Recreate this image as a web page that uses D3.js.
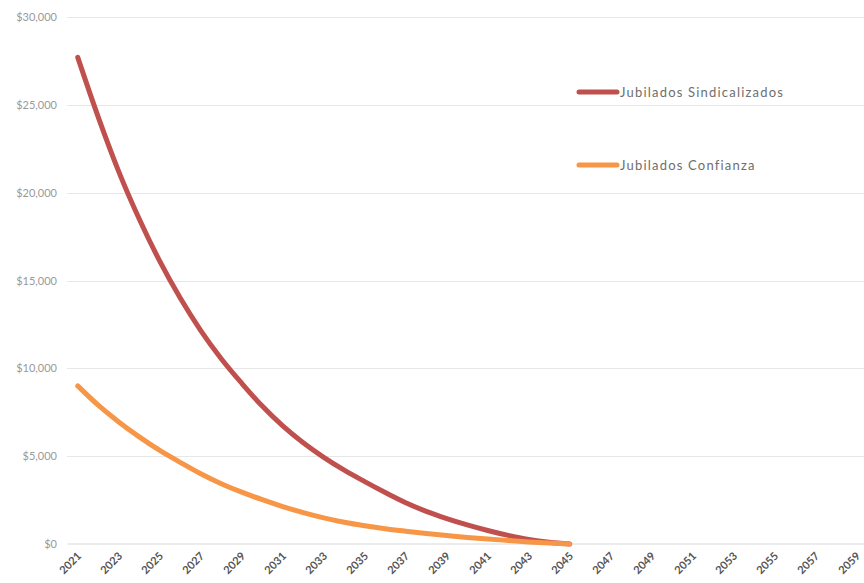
<!DOCTYPE html>
<html lang="es">
<head>
<meta charset="UTF-8">
<title>Jubilados</title>
<script src="https://d3js.org/d3.v7.min.js"></script>
<style>
  body { margin: 0; background: #fff; }
  svg { display: block; }
</style>
</head>
<body>
<svg id="chart" width="864" height="583"></svg>
<script>
// years on the category axis
var years = d3.range(2021, 2060);
var tickYears = years.filter(function(y) { return (y - 2021) % 2 === 0; });

// values, 2021..2045
var sindicalizados = [27700, 24300, 21200, 18500, 16100, 14000, 12150, 10550, 9150, 7850,
  6720, 5760, 4930, 4200, 3550, 2930, 2350, 1860, 1450, 1090, 770, 490, 260, 100, 0];
var confianza = [9000, 7900, 6950, 6100, 5330, 4650, 4000, 3430, 2950, 2520,
  2130, 1790, 1490, 1240, 1040, 870, 730, 600, 480, 370, 280, 200, 120, 55, 0];

var seriesNames = ["Jubilados Sindicalizados", "Jubilados Confianza"];
var seriesColors = ["#C0504D", "#F79646"];
var yTicks = [0, 5000, 10000, 15000, 20000, 25000, 30000];

var svg = d3.select("#chart");

var step = 20.5;
var plot = {left: 67.5, top: 17, bottom: 544};
plot.right = plot.left + step * years.length;

var x = d3.scalePoint()
    .domain(years)
    .range([plot.left + step / 2, plot.right - step / 2]);

var y = d3.scaleLinear()
    .domain([0, 30000])
    .range([plot.bottom, plot.top]);

// dotted gridlines
svg.append("g").selectAll("line")
  .data(yTicks.slice(1))
  .enter().append("line")
    .attr("x1", plot.left).attr("x2", plot.right)
    .attr("y1", function(d) { return Math.round(y(d)) + 0.5; })
    .attr("y2", function(d) { return Math.round(y(d)) + 0.5; })
    .style("stroke", "#cfcfcf")
    .style("stroke-width", 1)
    .style("stroke-dasharray", "1,1");

// baseline
svg.append("line")
  .attr("x1", plot.left).attr("x2", plot.right)
  .attr("y1", y(0)).attr("y2", y(0))
  .style("stroke", "#d9d9d9")
  .style("stroke-width", 1.2);

// y axis labels
var yAxis = d3.axisLeft(y)
    .tickValues(yTicks)
    .tickSize(0)
    .tickPadding(0)
    .tickFormat(function(d) { return "$" + d3.format(",")(d); });

var yG = svg.append("g")
    .attr("transform", "translate(57,0)")
    .call(yAxis);
yG.select(".domain").remove();
yG.selectAll("text")
    .style("font-family", "Lato, 'Open Sans', sans-serif")
    .style("font-size", "11px")
    .style("fill", "#999");

// x axis labels
var xAxis = d3.axisBottom(x)
    .tickValues(tickYears)
    .tickSize(0)
    .tickPadding(0);

var xG = svg.append("g")
    .attr("transform", "translate(0," + plot.bottom + ")")
    .call(xAxis);
xG.select(".domain").remove();
xG.selectAll("text")
    .attr("text-anchor", "end")
    .attr("dy", "0.35em")
    .attr("transform", "translate(1,10) rotate(-45)")
    .style("font-family", "Lato, 'Open Sans', sans-serif")
    .style("font-size", "11px")
    .style("font-weight", "bold")
    .style("fill", "#555");

// lines
var line = d3.line()
    .x(function(d, i) { return x(years[i]); })
    .y(function(d) { return y(d); })
    .curve(d3.curveMonotoneX);

[sindicalizados, confianza].forEach(function(vals, i) {
  svg.append("path")
    .datum(vals)
    .attr("d", line)
    .style("fill", "none")
    .style("stroke", seriesColors[i])
    .style("stroke-width", 5)
    .style("stroke-linecap", "round")
    .style("stroke-linejoin", "round");
});

// legend
var legend = svg.append("g").selectAll("g")
  .data(seriesNames)
  .enter().append("g")
    .attr("transform", function(d, i) { return "translate(579," + (92 + i * 73) + ")"; });

legend.append("line")
  .attr("x1", 0).attr("x2", 38)
  .style("stroke", function(d, i) { return seriesColors[i]; })
  .style("stroke-width", 5)
  .style("stroke-linecap", "round");

legend.append("text")
  .attr("x", 41)
  .attr("dy", "0.35em")
  .style("font-family", "Lato, 'Open Sans', sans-serif")
  .style("font-size", "13px")
  .style("letter-spacing", "1.2px")
  .style("fill", "#6e6e6e")
  .text(function(d) { return d; });
</script>
</body>
</html>
